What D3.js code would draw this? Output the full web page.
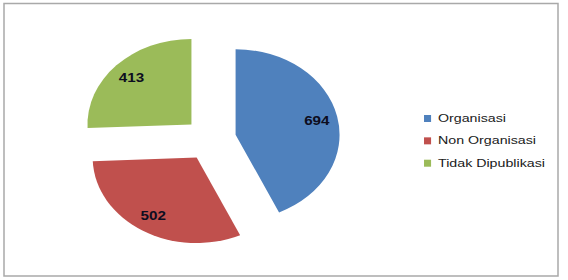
<!DOCTYPE html>
<html>
<head>
<meta charset="utf-8">
<script src="https://cdn.jsdelivr.net/npm/d3@7"></script>
<style>
  body { margin: 0; background: #fff; }
  svg { display: block; }
</style>
</head>
<body>
<div id="chart"></div>
<script>
// data
var categories = ['Organisasi', 'Non Organisasi', 'Tidak Dipublikasi']
var values = [694, 502, 413]
var colors = ['#4F81BD', '#C0504D', '#9BBB59']

var width = 568, height = 280
var stretch = 1.216   // picture is wider than tall
var radius = 85.5
var explode = 0.25

var svg = d3.select('#chart')
    .append('svg')
    .attr('width', width)
    .attr('height', height)

// outer frame
svg.append('rect')
    .attr('x', 4)
    .attr('y', 3.5)
    .attr('width', 554)
    .attr('height', 272.5)
    .attr('fill', 'none')
    .attr('stroke', '#a9a9a9')
    .attr('stroke-width', 1.5)

var pie = d3.pie().sort(null).value(function(d) { return d })
var arcs = pie(values)

var arc = d3.arc().innerRadius(0).outerRadius(radius)

var g = svg.append('g')
    .attr('transform', 'translate(210.2,139.3) scale(' + stretch + ',1)')

function offset(d, r) {
    var mid = (d.startAngle + d.endAngle) / 2
    return [Math.sin(mid) * r, -Math.cos(mid) * r]
}

var slice = g.selectAll('g.slice')
    .data(arcs)
    .enter()
    .append('g')
    .attr('class', 'slice')
    .attr('transform', function(d) {
        var o = offset(d, radius * explode)
        return 'translate(' + o[0] + ',' + o[1] + ')'
    })

slice.append('path')
    .attr('d', arc)
    .attr('fill', function(d, i) { return colors[i] })

slice.append('text')
    .attr('x', function(d) { return offset(d, radius * 0.8)[0] })
    .attr('y', function(d) { return offset(d, radius * 0.8)[1] })
    .attr('text-anchor', 'middle')
    .attr('dominant-baseline', 'central')
    .style('font-family', 'Liberation Sans, Arial, sans-serif')
    .style('font-weight', 'bold')
    .style('font-size', '12.5px')
    .attr('fill', '#0d0d20')
    .text(function(d) { return d.data })

// legend
var legend = svg.append('g')
    .attr('transform', 'scale(' + stretch + ',1)')

var item = legend.selectAll('g.item')
    .data(categories)
    .enter()
    .append('g')
    .attr('class', 'item')
    .attr('transform', function(d, i) { return 'translate(348.7,' + (122 + i * 22.35) + ')' })

item.append('rect')
    .attr('x', 0)
    .attr('y', -7)
    .attr('width', 5.8)
    .attr('height', 7)
    .attr('fill', function(d, i) { return colors[i] })

item.append('text')
    .attr('x', 11.5)
    .attr('y', 0)
    .style('font-family', 'Liberation Sans, Arial, sans-serif')
    .style('font-size', '11.7px')
    .attr('fill', '#1a1a1a')
    .text(function(d) { return d })
</script>
</body>
</html>
